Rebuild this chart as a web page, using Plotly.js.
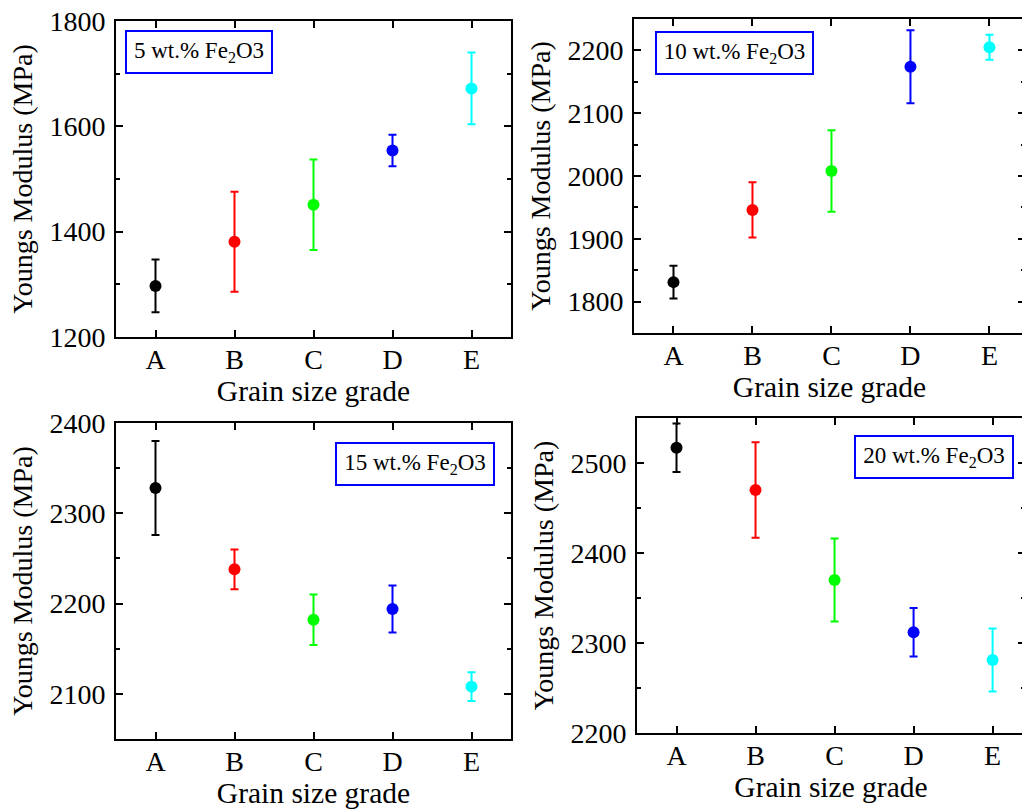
<!DOCTYPE html>
<html>
<head>
<meta charset="utf-8">
<script src="https://cdn.plot.ly/plotly-3.0.1.min.js"></script>
<style>
html, body { margin:0; padding:0; overflow:hidden; background:#fff; }
#chart { width:1040px; height:809px; }
</style>
</head>
<body>
<div id="chart"></div>
<script>
// ---- data ----
const categories = ['A', 'B', 'C', 'D', 'E'];
const modulus5  = [1297, 1381, 1451, 1554, 1672];
const error5    = [50, 95, 86, 30, 68];
const modulus10 = [1831, 1946, 2008, 2174, 2205];
const error10   = [26, 44, 65, 58, 20];
const modulus15 = [2328, 2238, 2182, 2194, 2108];
const error15   = [52, 22, 28, 26, 16];
const modulus20 = [2517, 2470, 2370, 2312, 2281];
const error20   = [27, 53, 46, 27, 35];
const panelLabels = ['5 wt.% Fe<sub>2</sub>O3', '10 wt.% Fe<sub>2</sub>O3', '15 wt.% Fe<sub>2</sub>O3', '20 wt.% Fe<sub>2</sub>O3'];
const xTitle = 'Grain size grade';
const yTitle = 'Youngs Modulus (MPa)';

// ---- styling ----
const W = 1040, H = 809;
const colors = ['#000000', '#ff0000', '#00ff00', '#0000ff', '#00ffff'];
const FONT = 'Liberation Serif';

const panels = [
  {vals: modulus5,  errs: error5,  px: [116, 511], py: [21, 337],  xr: [-0.5, 4.5],  yr: [1200, 1800], dt: 200, mdt: 100, box: [199, 52, 148]},
  {vals: modulus10, errs: error10, px: [634, 1025], py: [19, 333], xr: [-0.5, 4.45], yr: [1750, 2250], dt: 100, mdt: 50, box: [734.5, 53, 159]},
  {vals: modulus15, errs: error15, px: [116, 511], py: [423, 739], xr: [-0.5, 4.5],  yr: [2050, 2400], dt: 100, mdt: 50, box: [415, 464, 160]},
  {vals: modulus20, errs: error20, px: [637, 1025], py: [418, 733], xr: [-0.5, 4.41], yr: [2200, 2550], dt: 100, mdt: 50, box: [934, 457, 160]}
];

const traces = [];
const layout = {
  width: W, height: H,
  margin: {l: 0, r: 0, t: 0, b: 0},
  paper_bgcolor: '#fff', plot_bgcolor: '#fff',
  showlegend: false,
  font: {family: FONT, color: '#000', size: 28},
  annotations: []
};

panels.forEach((p, i) => {
  const n = i + 1;
  const xa = 'x' + (n === 1 ? '' : n), ya = 'y' + (n === 1 ? '' : n);
  categories.forEach((c, k) => {
    traces.push({
      type: 'scatter', mode: 'markers',
      x: [c], y: [p.vals[k]],
      xaxis: xa, yaxis: ya,
      marker: {color: colors[k], size: 12},
      error_y: {type: 'data', array: [p.errs[k]], visible: true, color: colors[k], thickness: 2, width: 4},
      hoverinfo: 'x+y'
    });
  });
  const axCommon = {
    showline: true, linecolor: '#000', linewidth: 2, mirror: 'ticks',
    ticks: 'inside', ticklen: 7, tickwidth: 2, tickcolor: '#000',
    showgrid: false, zeroline: false,
    tickfont: {family: FONT, size: 28, color: '#000'}
  };
  layout['xaxis' + (n === 1 ? '' : n)] = Object.assign({}, axCommon, {
    type: 'category', categoryorder: 'array', categoryarray: categories,
    domain: [p.px[0] / W, p.px[1] / W], range: p.xr,
    anchor: ya,
    ticklabelstandoff: -4,
    title: {text: xTitle, font: {family: FONT, size: 29.5, color: '#000'}, standoff: 0}
  });
  layout['yaxis' + (n === 1 ? '' : n)] = Object.assign({}, axCommon, {
    domain: [1 - p.py[1] / H, 1 - p.py[0] / H], range: p.yr,
    anchor: xa,
    tick0: 0, dtick: p.dt,
    minor: {dtick: p.mdt, ticks: 'inside', ticklen: 4, tickwidth: 2, tickcolor: '#000', showgrid: false},
    ticklabelstandoff: 3,
    title: {text: yTitle, font: {family: FONT, size: 28, color: '#000'}, standoff: 9}
  });
  layout.annotations.push({
    xref: 'paper', yref: 'paper',
    x: p.box[0] / W, y: 1 - p.box[1] / H,
    xanchor: 'center', yanchor: 'middle',
    text: panelLabels[i], showarrow: false,
    font: {family: FONT, size: 23, color: '#000'},
    bordercolor: '#0000ff', borderwidth: 2, borderpad: 3,
    width: p.box[2] - 10, height: 34,
    bgcolor: '#fff'
  });
});

Plotly.newPlot('chart', traces, layout, {displayModeBar: false, staticPlot: true});
</script>
</body>
</html>
